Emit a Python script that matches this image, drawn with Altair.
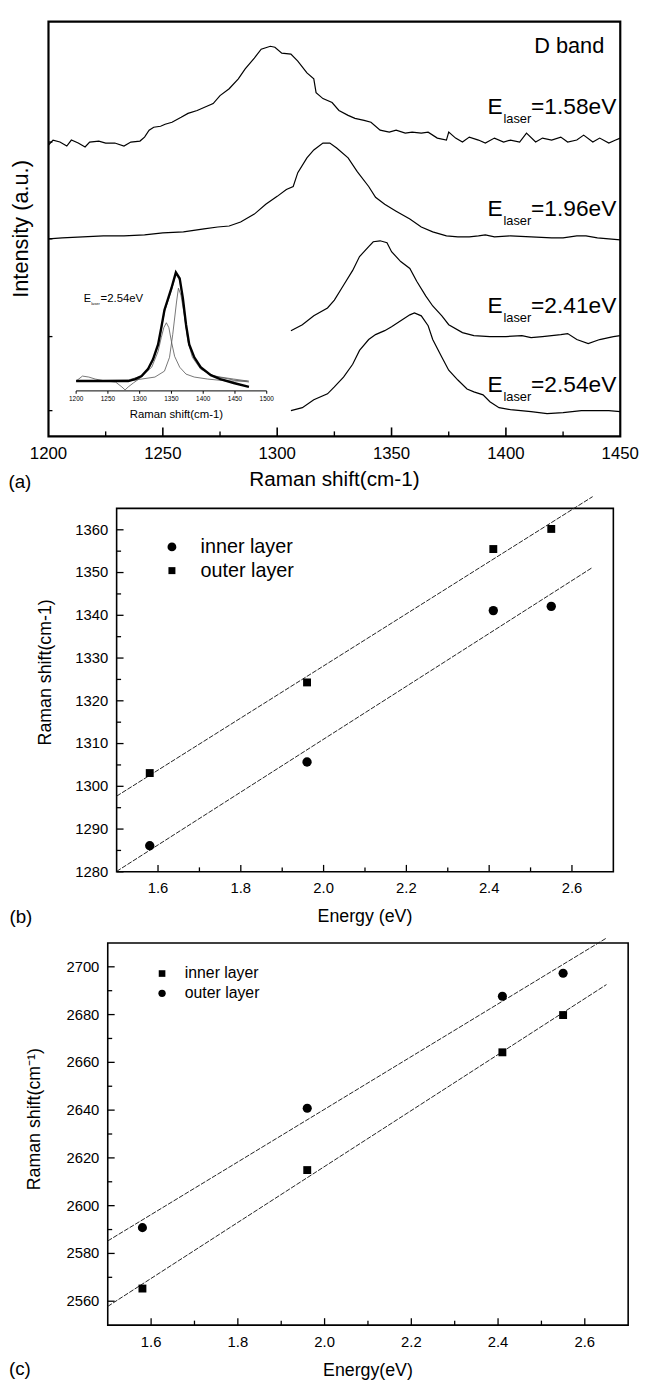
import altair as alt
import pandas as pd

FONT = "Liberation Sans"

# ---------------- (a) D band spectra: Raman shift (cm-1) vs intensity (a.u.) ----------------
d158_shift = [1200, 1202, 1205, 1208, 1210, 1213, 1216, 1218, 1222, 1225, 1229, 1233, 1236, 1240,
              1242, 1244, 1246, 1249, 1251, 1254, 1258, 1261, 1265, 1268, 1272, 1275, 1279, 1283,
              1286, 1290, 1293, 1297, 1299, 1302, 1306, 1309, 1313, 1316, 1317, 1320, 1324, 1327,
              1331, 1334, 1338, 1341, 1345, 1349, 1352, 1356, 1359, 1363, 1366, 1370, 1374, 1375,
              1378, 1381, 1384, 1388, 1391, 1395, 1399, 1402, 1406, 1409, 1413, 1416, 1420, 1424,
              1427, 1431, 1434, 1438, 1441, 1445, 1448, 1450]
d158_int = [295, 300, 298, 294, 300, 297, 293, 298, 299, 297, 297, 294, 298, 299,
            303, 310, 313, 314, 316, 318, 323, 327, 330, 333, 337, 345, 352, 362,
            372, 383, 392, 395, 394, 388, 387, 380, 368, 362, 348, 342, 338, 330,
            325, 322, 320, 318, 310, 308, 310, 307, 308, 307, 308, 302, 300, 308,
            302, 298, 303, 300, 297, 302, 298, 300, 298, 307, 298, 302, 300, 303,
            298, 300, 305, 298, 302, 297, 300, 302]

d196_shift = [1200, 1206, 1215, 1224, 1233, 1242, 1250, 1259, 1268, 1274, 1279, 1284, 1290, 1295,
              1300, 1304, 1307, 1309, 1313, 1316, 1320, 1323, 1326, 1331, 1335, 1340, 1343, 1347,
              1352, 1358, 1363, 1368, 1374, 1379, 1384, 1388, 1391, 1395, 1402, 1411, 1420, 1425,
              1431, 1435, 1440, 1445, 1450]
d196_int = [200, 201, 202, 203, 203, 204, 206, 207, 210, 212, 213, 217, 225, 235,
            243, 250, 253, 267, 282, 290, 297, 297, 292, 282, 268, 253, 242, 235,
            228, 220, 212, 207, 203, 202, 202, 203, 204, 202, 203, 202, 201, 201,
            203, 203, 201, 200, 199]

d241_shift = [1306, 1311, 1316, 1322, 1325, 1329, 1333, 1336, 1340, 1342, 1345, 1348, 1350, 1354,
              1358, 1361, 1365, 1368, 1372, 1375, 1381, 1386, 1393, 1400, 1407, 1411, 1416, 1424,
              1427, 1431, 1436, 1441, 1447, 1450]
d241_int = [107, 113, 122, 130, 138, 153, 168, 182, 192, 197, 198, 196, 187, 177,
            170, 157, 142, 132, 122, 113, 105, 102, 101, 101, 102, 100, 101, 103,
            104, 98, 94, 98, 101, 102]

d254_shift = [1306, 1311, 1316, 1322, 1325, 1329, 1333, 1336, 1340, 1343, 1347, 1350, 1354, 1358,
              1360, 1363, 1366, 1368, 1372, 1375, 1379, 1383, 1386, 1390, 1393, 1397, 1402, 1411,
              1418, 1425, 1433, 1440, 1445, 1450]
d254_int = [26, 29, 37, 43, 50, 60, 73, 87, 98, 103, 107, 111, 117, 123,
            125, 122, 112, 98, 80, 67, 57, 48, 45, 42, 35, 29, 27, 25,
            23, 24, 26, 26, 26, 25]

a_xdom, a_ydom = [1200, 1450], [0, 420]
a_xlabels = [1200, 1250, 1300, 1350, 1400, 1450]
a_xticks_major = [1250, 1300, 1350, 1400]
a_xticks_minor = [1225, 1275, 1325, 1375, 1425]
a_yticks = [26, 101, 200, 298]

a_label_energy = ["=1.58eV", "=1.96eV", "=2.41eV", "=2.54eV"]
a_label_x = [1392, 1392, 1392, 1392]
a_label_y = [326, 223, 125, 45]
a_band_text = ["D band"]
a_band_x = [1443]
a_band_y = [388]

# inset of (a): E_laser = 2.54 eV spectrum and its two-peak fit
inset_meas_shift = [1200, 1240, 1282, 1293, 1303, 1313, 1321, 1329, 1334, 1339, 1345, 1350,
                    1357, 1363, 1368, 1373, 1378, 1386, 1396, 1412, 1427, 1448, 1472]
inset_meas_int = [10, 10, 10, 12, 15, 22, 32, 47, 64, 82, 94, 104,
                  120, 114, 94, 67, 47, 34, 24, 16, 12, 8, 4]
inset_c1_shift = [1200, 1282, 1303, 1319, 1329, 1334, 1338, 1342, 1346, 1350, 1355, 1363,
                  1373, 1386, 1407, 1438, 1472]
inset_c1_int = [10, 11, 15, 24, 40, 54, 64, 69, 64, 50, 35, 24, 17, 14, 12, 10, 10]
inset_c2_shift = [1200, 1282, 1324, 1339, 1347, 1352, 1358, 1361, 1365, 1371, 1376, 1383,
                  1396, 1417, 1448, 1472]
inset_c2_int = [10, 10, 14, 20, 34, 57, 90, 104, 97, 74, 50, 34, 22, 15, 11, 9]
inset_fit_shift = [1200, 1210, 1220, 1230, 1246, 1262, 1272, 1277, 1282, 1290, 1303, 1313,
                   1321, 1329, 1334, 1339, 1345, 1350, 1357, 1363, 1368, 1373, 1378, 1386,
                   1396, 1412, 1427, 1448, 1470]
inset_fit_int = [10, 15, 14, 12, 10, 9, 4, 1, 4, 8, 14, 21, 31, 46, 62, 80, 92, 102, 118,
                 112, 92, 65, 46, 33, 23, 16, 14, 12, 10]
inset_xdom, inset_ydom = [1200, 1500], [0, 120]
inset_xlabels = [1200, 1250, 1300, 1350, 1400, 1450, 1500]
inset_label_x = [1212]
inset_label_y = [90]
inset_label_energy = ["=2.54eV"]

# ---------------- (b) D band position vs laser energy ----------------
b_energy = [1.58, 1.96, 2.41, 2.55]
b_inner = [1286.1, 1305.7, 1341.1, 1342.1]
b_outer = [1303.1, 1324.3, 1355.5, 1360.2]
b_xdom, b_ydom = [1.5, 2.7], [1280, 1365]
b_xlabels = [1.6, 1.8, 2.0, 2.2, 2.4, 2.6]
b_xticks_minor = [1.7, 1.9, 2.1, 2.3, 2.5]
b_ylabels = [1280, 1290, 1300, 1310, 1320, 1330, 1340, 1350, 1360]
b_yticks_minor = [1285, 1295, 1305, 1315, 1325, 1335, 1345, 1355]

# ---------------- (c) G' band position vs laser energy ----------------
c_energy = [1.58, 1.96, 2.41, 2.55]
c_inner = [2565.3, 2614.9, 2664.2, 2679.8]
c_outer = [2590.8, 2640.8, 2687.7, 2697.3]
c_xdom, c_ydom = [1.5, 2.7], [2550, 2710]
c_xlabels = [1.6, 1.8, 2.0, 2.2, 2.4, 2.6]
c_xticks_minor = [1.7, 1.9, 2.1, 2.3, 2.5]
c_ylabels = [2560, 2580, 2600, 2620, 2640, 2660, 2680, 2700]
c_yticks_minor = [2570, 2590, 2610, 2630, 2650, 2670, 2690]

fit_extent = [1.5, 2.65]
layer_names = ["inner layer", "outer layer"]

# ---------------- layout: pixel ranges inside one drawing area ----------------
VIEW_W, VIEW_H = 641, 1383
A_X, A_Y = [41, 620], [425, 5]
INSET_X, INSET_Y = [69, 262], [379, 259]
B_X, B_Y = [110, 613], [866, 498]
C_X, C_Y = [101, 628], [1325, 938]


def long_df(items, xname="x", yname="y"):
    rows = []
    for name, xs, ys in items:
        assert len(xs) == len(ys), name
        for xv, yv in zip(xs, ys):
            rows.append({"series": name, xname: xv, yname: yv})
    return pd.DataFrame(rows)


def sc(domain, rng):
    return alt.Scale(domain=domain, range=rng, nice=False, zero=False)


class Panel:
    def __init__(self, xdom, ydom, xr, yr):
        self.xdom, self.ydom = xdom, ydom
        self.xs, self.ys = sc(xdom, xr), sc(ydom, yr)

    def X(self, f):
        return alt.X(f, scale=self.xs, axis=None)

    def Y(self, f):
        return alt.Y(f, scale=self.ys, axis=None)

    def frame(self, width):
        df = pd.DataFrame({"x0": [self.xdom[0]], "x1": [self.xdom[1]],
                           "y0": [self.ydom[0]], "y1": [self.ydom[1]]})
        return alt.Chart(df).mark_rect(fill="transparent", stroke="black",
                                       strokeWidth=width).encode(
            x=self.X("x0:Q"), x2="x1:Q", y=self.Y("y0:Q"), y2="y1:Q")

    def xticks(self, values, length, width=1.3, inward=True):
        df = pd.DataFrame({"v": values, "b": [self.ydom[0]] * len(values)})
        off = -length / 2 if inward else length / 2
        return alt.Chart(df).mark_tick(orient="vertical", size=length, thickness=width,
                                       color="black", opacity=1, yOffset=off).encode(
            x=self.X("v:Q"), y=self.Y("b:Q"))

    def yticks(self, values, length, width=1.3):
        df = pd.DataFrame({"v": values, "b": [self.xdom[0]] * len(values)})
        return alt.Chart(df).mark_tick(orient="horizontal", size=length, thickness=width,
                                       color="black", opacity=1, xOffset=length / 2).encode(
            x=self.X("b:Q"), y=self.Y("v:Q"))

    def xlabels(self, values, fmt, fs, dy):
        df = pd.DataFrame({"v": values, "b": [self.ydom[0]] * len(values)})
        return alt.Chart(df).mark_text(font=FONT, fontSize=fs, color="black", align="center",
                                       baseline="middle", dy=dy).encode(
            x=self.X("v:Q"), y=self.Y("b:Q"), text=alt.Text("v:Q", format=fmt))

    def ylabels(self, values, fmt, fs, dx):
        df = pd.DataFrame({"v": values, "b": [self.xdom[0]] * len(values)})
        return alt.Chart(df).mark_text(font=FONT, fontSize=fs, color="black", align="right",
                                       baseline="middle", dx=dx).encode(
            x=self.X("b:Q"), y=self.Y("v:Q"), text=alt.Text("v:Q", format=fmt))

    def text(self, x, y, t, fs, dx=0, dy=0, angle=0, align="center", baseline="middle"):
        df = pd.DataFrame({"x": [x], "y": [y], "t": [t]})
        return alt.Chart(df).mark_text(font=FONT, fontSize=fs, color="black", align=align,
                                       baseline=baseline, dx=dx, dy=dy, angle=angle).encode(
            x=self.X("x:Q"), y=self.Y("y:Q"), text="t:N")


def mid(d):
    return (d[0] + d[1]) / 2


# ======================= panel (a) =======================
pa = Panel(a_xdom, a_ydom, A_X, A_Y)
spectra = long_df([("1.58", d158_shift, d158_int), ("1.96", d196_shift, d196_int),
                   ("2.41", d241_shift, d241_int), ("2.54", d254_shift, d254_int)])
lines_a = alt.Chart(spectra).mark_line(color="black", strokeWidth=1.2).encode(
    x=pa.X("x:Q"), y=pa.Y("y:Q"), detail="series:N")

lab_df = pd.DataFrame({"x": a_label_x, "y": a_label_y, "energy": a_label_energy})
lab_base = alt.Chart(lab_df).encode(x=pa.X("x:Q"), y=pa.Y("y:Q"))
lab_E = lab_base.mark_text(align="left", baseline="alphabetic", font=FONT, fontSize=23,
                           color="black").encode(text=alt.value("E"))
lab_sub = lab_base.mark_text(align="left", baseline="alphabetic", font=FONT, fontSize=13,
                             color="black", dx=16, dy=9).encode(text=alt.value("laser"))
lab_val = lab_base.mark_text(align="left", baseline="alphabetic", font=FONT, fontSize=23,
                             color="black", dx=44).encode(text="energy:N")
band_df = pd.DataFrame({"x": a_band_x, "y": a_band_y, "t": a_band_text})
band = alt.Chart(band_df).mark_text(align="right", baseline="alphabetic", font=FONT,
                                    fontSize=22, color="black").encode(
    x=pa.X("x:Q"), y=pa.Y("y:Q"), text="t:N")

group_a = alt.layer(
    pa.frame(2.2), lines_a, lab_E, lab_sub, lab_val, band,
    pa.xticks(a_xticks_major, 9, 1.6), pa.xticks(a_xticks_minor, 5, 1.4),
    pa.yticks(a_yticks, 4),
    pa.xlabels(a_xlabels, "d", 17, 18),
    pa.text(mid(a_xdom), a_ydom[0], "Raman shift(cm-1)", 21, dy=44),
    pa.text(a_xdom[0], mid(a_ydom), "Intensity (a.u.)", 22, dy=-28, angle=270),
    pa.text(a_xdom[0], a_ydom[0], "(a)", 19, dx=-29, dy=46),
)

# inset
pi = Panel(inset_xdom, inset_ydom, INSET_X, INSET_Y)
inset_meas = pd.DataFrame({"x": inset_meas_shift, "y": inset_meas_int})
inset_thin_df = long_df([("c1", inset_c1_shift, inset_c1_int), ("c2", inset_c2_shift, inset_c2_int),
                         ("fit", inset_fit_shift, inset_fit_int)])
inset_thin = alt.Chart(inset_thin_df).mark_line(color="#555", strokeWidth=0.8).encode(
    x=pi.X("x:Q"), y=pi.Y("y:Q"), detail="series:N")
inset_thick = alt.Chart(inset_meas).mark_line(color="black", strokeWidth=2.4).encode(
    x=pi.X("x:Q"), y=pi.Y("y:Q"))
inset_axis = alt.Chart(pd.DataFrame({"x0": [inset_xdom[0]], "x1": [inset_xdom[1]],
                                     "y0": [inset_ydom[0]]})).mark_rule(
    color="black", strokeWidth=1).encode(x=pi.X("x0:Q"), x2="x1:Q", y=pi.Y("y0:Q"))
ilab_df = pd.DataFrame({"x": inset_label_x, "y": inset_label_y, "energy": inset_label_energy})
ilab_base = alt.Chart(ilab_df).encode(x=pi.X("x:Q"), y=pi.Y("y:Q"))
ilab_E = ilab_base.mark_text(align="left", baseline="alphabetic", font=FONT, fontSize=11,
                             color="black").encode(text=alt.value("E"))
ilab_sub = ilab_base.mark_text(align="left", baseline="alphabetic", font=FONT, fontSize=4,
                               color="black", dx=7.5, dy=3).encode(text=alt.value("laser"))
ilab_val = ilab_base.mark_text(align="left", baseline="alphabetic", font=FONT, fontSize=11.5,
                               color="black", dx=17).encode(text="energy:N")

group_inset = alt.layer(
    inset_thin, inset_thick, inset_axis,
    pi.xticks(inset_xlabels, 3, 1, inward=False),
    pi.xlabels(inset_xlabels, "d", 6.5, 8),
    pi.text(mid(inset_xdom), inset_ydom[0], "Raman shift(cm-1)", 11.5, dx=5, dy=24),
    ilab_E, ilab_sub, ilab_val,
)


# ======================= panels (b), (c) =======================
def energy_group(p, energy, inner, outer, shapes, sizes, xlabels, xminor, ylabels, yminor,
                 xtitle, ytitle, xlab_dy, xtitle_dy, ytitle_dy, ytitle_dx,
                 leg_sym, leg_rows, leg_text_dx, leg_fs, leg_sizes, tag, tag_d):
    df = long_df([(layer_names[0], energy, inner), (layer_names[1], energy, outer)],
                 "energy", "shift")
    parts = [p.frame(1.6)]
    fit = alt.Chart(df).transform_regression(
        "energy", "shift", groupby=["series"], extent=fit_extent
    ).mark_line(clip=True, color="#222", strokeWidth=1, strokeDash=[5, 1.5]).encode(
        x=p.X("energy:Q"), y=p.Y("shift:Q"), detail="series:N")
    parts.append(fit)
    for name, shape, size in zip(layer_names, shapes, sizes):
        parts.append(alt.Chart(df).transform_filter(alt.datum.series == name).mark_point(
            filled=True, shape=shape, size=size, color="black", opacity=1).encode(
            x=p.X("energy:Q"), y=p.Y("shift:Q")))
    # legend (anchored at the top-left corner of the frame)
    corner = pd.DataFrame({"x": [p.xdom[0]], "y": [p.ydom[1]]})
    for name, shape, size, row in zip(layer_names, shapes, leg_sizes, leg_rows):
        parts.append(alt.Chart(corner).mark_point(
            filled=True, shape=shape, size=size, color="black", opacity=1,
            xOffset=leg_sym, yOffset=row).encode(x=p.X("x:Q"), y=p.Y("y:Q")))
        parts.append(p.text(p.xdom[0], p.ydom[1], name, leg_fs, dx=leg_text_dx, dy=row,
                            align="left"))
    parts += [
        p.xticks(xlabels, 7), p.xticks(xminor, 4.5),
        p.yticks(ylabels, 7), p.yticks(yminor, 4.5),
        p.xlabels(xlabels, ".1f", 15, xlab_dy),
        p.ylabels(ylabels, "d", 15, -8.5),
        p.text(mid(p.xdom), p.ydom[0], xtitle, 18, dy=xtitle_dy),
        p.text(p.xdom[0], mid(p.ydom), ytitle, 18, dx=ytitle_dx, dy=ytitle_dy, angle=270),
        p.text(p.xdom[0], p.ydom[0], tag, 19, dx=tag_d[0], dy=tag_d[1]),
    ]
    return alt.layer(*parts)


pb = Panel(b_xdom, b_ydom, B_X, B_Y)
group_b = energy_group(
    pb, b_energy, b_inner, b_outer, ["circle", "square"], [90, 64],
    b_xlabels, b_xticks_minor, b_ylabels, b_yticks_minor,
    "Energy (eV)", "Raman shift(cm-1)", 16, 46, -71, 18,
    56, [39, 63], 85, 20, [80, 50], "(b)", (-97, 46))

pc = Panel(c_xdom, c_ydom, C_X, C_Y)
group_c = energy_group(
    pc, c_energy, c_inner, c_outer, ["square", "circle"], [64, 85],
    c_xlabels, c_xticks_minor, c_ylabels, c_yticks_minor,
    "Energy(eV)", "Raman shift(cm\u207b\u00b9)", 17, 47, -74, 15,
    55, [31, 51], 78, 16, [45, 55], "(c)", (-89, 45))

chart = alt.layer(group_a, group_inset, group_b, group_c).resolve_scale(
    x="independent", y="independent"
).properties(width=VIEW_W, height=VIEW_H, padding=0).configure(font=FONT).configure_view(
    strokeOpacity=0)

chart.save("out.html", embed_options={"renderer": "svg", "actions": False})
